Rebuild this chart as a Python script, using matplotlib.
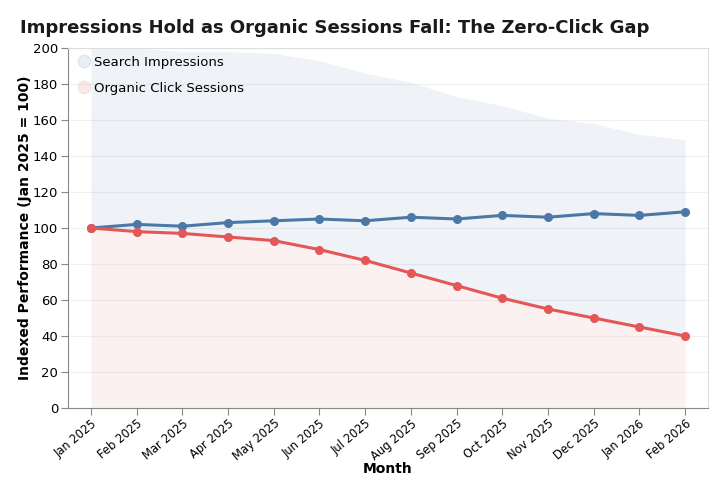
import numpy as np
import matplotlib.pyplot as plt
from matplotlib.lines import Line2D

months = ['Jan 2025', 'Feb 2025', 'Mar 2025', 'Apr 2025', 'May 2025', 'Jun 2025',
          'Jul 2025', 'Aug 2025', 'Sep 2025', 'Oct 2025', 'Nov 2025', 'Dec 2025',
          'Jan 2026', 'Feb 2026']
impressions = [100, 102, 101, 103, 104, 105, 104, 106, 105, 107, 106, 108, 107, 109]
sessions = [100, 98, 97, 95, 93, 88, 82, 75, 68, 61, 55, 50, 45, 40]

blue = '#4c78a8'
red = '#e45756'

x = np.arange(len(months))
imp = np.array(impressions)
ses = np.array(sessions)

fig = plt.figure(figsize=(7.28, 4.94), dpi=100)
ax = fig.add_axes([68 / 728, 86 / 494, 640 / 728, 360 / 494])

# gestapelte Flaechen im Hintergrund
ax.fill_between(x, 0, ses, color=red, alpha=0.08, lw=0, zorder=1)
ax.fill_between(x, ses, ses + imp, color=blue, alpha=0.085, lw=0, zorder=1)

ax.plot(x, imp, color=blue, lw=2.2, marker='o', ms=5.5, zorder=3)
ax.plot(x, ses, color=red, lw=2.2, marker='o', ms=5.5, zorder=4)

ax.set_xlim(-0.5, len(months) - 0.5)
ax.set_ylim(0, 200)
ax.set_yticks(range(0, 201, 20))
ax.set_xticks(x)
ax.set_xticklabels(months, rotation=40, ha='right', rotation_mode='anchor', fontsize=8.3)
ax.tick_params(axis='y', labelsize=9.5, colors='#888888', labelcolor='black', length=5, pad=2)
ax.tick_params(axis='x', colors='#888888', labelcolor='black', length=5, pad=1.5)
ax.grid(axis='y', color='#f0f0f0', lw=0.8)
ax.set_axisbelow(True)

for s in ['left', 'bottom']:
    ax.spines[s].set_color('#888888')
for s in ['top', 'right']:
    ax.spines[s].set_color('#dddddd')

ax.set_xlabel('Month', fontsize=10, fontweight='bold', labelpad=-1)
ax.set_ylabel('Indexed Performance (Jan 2025 = 100)', fontsize=10, fontweight='bold', labelpad=1)

fig.text(20 / 728, 1 - 28 / 494, 'Impressions Hold as Organic Sessions Fall: The Zero-Click Gap',
         fontsize=13, fontweight='bold', va='center', ha='left', color='#1a1a1a')

handles = [
    Line2D([], [], ls='none', marker='o', ms=9, mfc=blue, mec=blue, alpha=0.12),
    Line2D([], [], ls='none', marker='o', ms=9, mfc=red, mec=red, alpha=0.12),
]
ax.legend(handles, ['Search Impressions', 'Organic Click Sessions'], loc='upper left',
          frameon=False, fontsize=9.5, handletextpad=0.2, borderaxespad=0.4,
          labelspacing=1.0, borderpad=0.2, handlelength=1.2)

fig.savefig('out.png', dpi=100)
